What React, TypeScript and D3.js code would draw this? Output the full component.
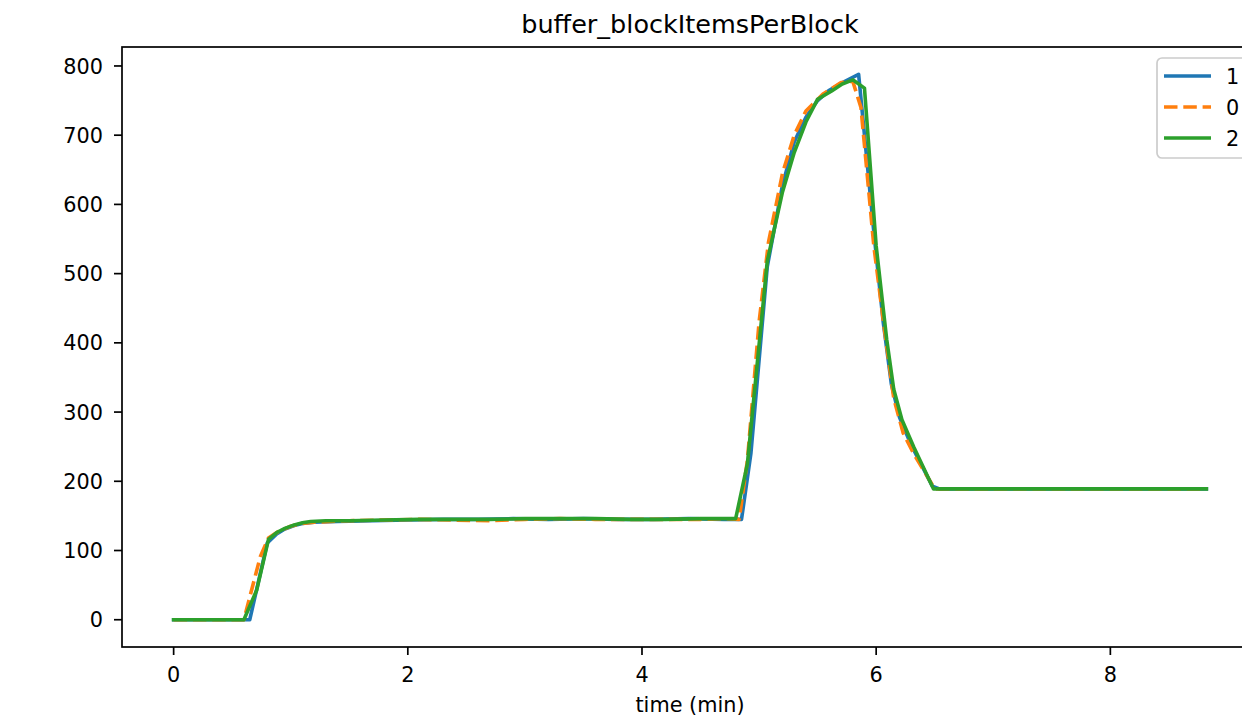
import React from "react";
import * as d3 from "d3";

const title = "buffer_blockItemsPerBlock";
const xLabel = "time (min)";
const xTicks = [0, 2, 4, 6, 8];
const yTicks = [0, 100, 200, 300, 400, 500, 600, 700, 800];

const seriesNames = ["1", "0", "2"];
const seriesColors = ["#1f77b4", "#ff7f0e", "#2ca02c"];

const t1 = [0, 0.65, 0.8, 0.88, 0.95, 1.03, 1.1, 1.2, 1.4, 1.7, 2.0, 2.3, 2.6, 2.9, 3.2, 3.5, 3.8, 4.1, 4.4, 4.7, 4.85, 4.93, 5.07, 5.2, 5.3, 5.4, 5.5, 5.6, 5.7, 5.85, 5.98, 6.06, 6.13, 6.2, 6.3, 6.48, 6.54, 7.0, 8.0, 8.82];
const v1 = [0, 0, 111, 124, 131, 136, 139, 141, 142, 143, 144, 145, 145, 146, 145, 146, 145, 145, 146, 145, 145, 240, 510, 628, 690, 726, 750, 765, 775, 788, 560, 430, 340, 292, 252, 193, 189, 189, 189, 189];

const t0 = [0, 0.6, 0.74, 0.81, 0.9, 1.0, 1.1, 1.2, 1.5, 1.8, 2.1, 2.4, 2.7, 3.0, 3.3, 3.6, 3.9, 4.2, 4.5, 4.7, 4.83, 4.9, 5.0, 5.08, 5.2, 5.3, 5.4, 5.55, 5.7, 5.8, 5.87, 5.98, 6.07, 6.15, 6.23, 6.32, 6.5, 7.0, 8.0, 8.82];
const v0 = [0, 0, 91, 118, 128, 135, 139, 141, 143, 144, 145, 144, 143, 145, 146, 145, 145, 145, 145, 146, 145, 230, 430, 545, 645, 700, 735, 760, 776, 778, 740, 540, 420, 320, 270, 240, 189, 189, 189, 189];

const t2 = [0, 0.6, 0.71, 0.81, 0.88, 0.95, 1.03, 1.1, 1.17, 1.3, 1.5, 1.8, 2.1, 2.4, 2.7, 3.0, 3.3, 3.6, 3.9, 4.2, 4.5, 4.7, 4.8, 4.9, 5.07, 5.2, 5.3, 5.4, 5.5, 5.62, 5.71, 5.8, 5.9, 6.0, 6.09, 6.15, 6.22, 6.32, 6.49, 7.0, 7.5, 8.0, 8.5, 8.82];
const v2 = [0, 0, 43, 116, 126, 132, 137, 140, 142, 143, 143, 144, 145, 145, 145, 146, 146, 146, 145, 145, 146, 146, 146, 225, 518, 618, 675, 719, 752, 764, 774, 780, 768, 540, 405, 333, 289, 250, 189, 189, 189, 189, 189, 189];

const seriesT = [t1, t0, t2];
const seriesV = [v1, v0, v2];

const W = 1242;
const H = 721;
const FONT = "DejaVu Sans";

export default function App() {
  const left = 122, right = 1258, top = 47, bottom = 647;
  const x = d3.scaleLinear().domain([-0.441, 9.261]).range([left, right]);
  const y = d3.scaleLinear().domain([-39.4, 827.4]).range([bottom, top]);
  const lw = 3.6;
  const dash = "13.5,5.8";
  const fs = 20.8;

  const line = d3
    .line<[number, number]>()
    .x((d) => x(d[0]))
    .y((d) => y(d[1]));

  const paths = seriesT.map((ts, i) =>
    line(ts.map((t, j) => [t, seriesV[i][j]] as [number, number]))
  );

  const legendX = 1157, legendY = 58;
  const rowY = [76, 107, 138];

  return (
    <div style={{ position: "fixed", left: 0, top: 0, width: W, height: H, background: "#fff" }}>
      <svg width={W} height={H} viewBox={`0 0 ${W} ${H}`} style={{ display: "block" }} fontFamily={FONT}>
        <rect x={0} y={0} width={W} height={H} fill="#fff" />
        <defs>
          <clipPath id="plotclip">
            <rect x={left} y={top} width={right - left} height={bottom - top} />
          </clipPath>
        </defs>
        <g clipPath="url(#plotclip)">
          {paths.map((p, i) => (
            <path
              key={i}
              d={p || ""}
              fill="none"
              stroke={seriesColors[i]}
              strokeWidth={lw}
              strokeDasharray={i === 1 ? dash : undefined}
              strokeLinejoin="round"
              strokeLinecap={i === 1 ? "butt" : "square"}
            />
          ))}
        </g>
        {/* spines */}
        <rect x={left} y={top} width={right - left} height={bottom - top} fill="none" stroke="#000" strokeWidth={1.7} />
        {/* x ticks */}
        {xTicks.map((t) => (
          <g key={"x" + t}>
            <line x1={x(t)} x2={x(t)} y1={bottom} y2={bottom + 8} stroke="#000" strokeWidth={1.7} />
            <text x={x(t)} y={682} textAnchor="middle" fontSize={fs} fill="#000">
              {t}
            </text>
          </g>
        ))}
        {/* y ticks */}
        {yTicks.map((t) => (
          <g key={"y" + t}>
            <line x1={left - 8} x2={left} y1={y(t)} y2={y(t)} stroke="#000" strokeWidth={1.7} />
            <text x={103} y={y(t) + 7.6} textAnchor="end" fontSize={fs} fill="#000">
              {t}
            </text>
          </g>
        ))}
        <text x={(left + right) / 2} y={712} textAnchor="middle" fontSize={fs} fill="#000">
          {xLabel}
        </text>
        <text x={(left + right) / 2} y={33} textAnchor="middle" fontSize={25.5} fill="#000">
          {title}
        </text>
        {/* legend */}
        <rect x={legendX} y={legendY} width={120} height={100} rx={5} fill="#fff" fillOpacity={0.8} stroke="#cccccc" strokeWidth={1.7} />
        {seriesNames.map((n, i) => (
          <g key={"l" + n}>
            <line
              x1={1164}
              x2={1211}
              y1={rowY[i]}
              y2={rowY[i]}
              stroke={seriesColors[i]}
              strokeWidth={lw}
              strokeDasharray={i === 1 ? dash : undefined}
            />
            <text x={1226} y={rowY[i] + 7.5} fontSize={fs} fill="#000">
              {n}
            </text>
          </g>
        ))}
      </svg>
    </div>
  );
}
